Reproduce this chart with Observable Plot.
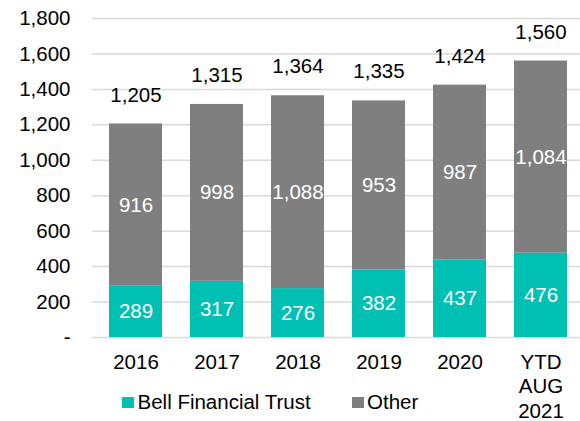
<!DOCTYPE html>
<html>
<head>
<meta charset="utf-8">
<script src="https://cdn.jsdelivr.net/npm/d3@7"></script>
<script src="https://cdn.jsdelivr.net/npm/@observablehq/plot@0.6"></script>
<style>
  body { margin: 0; background: #fff; font-family: "Liberation Sans", Arial, sans-serif; }
  #wrap { position: relative; width: 580px; height: 421px; }
  #wrap svg { overflow: visible; }
  .lg { position: absolute; font-size: 20.5px; color: #000; line-height: 1; white-space: nowrap; }
  .sw { position: absolute; width: 11.5px; height: 11.5px; }
</style>
</head>
<body>
<div id="wrap"></div>
<script>
const years = ["2016", "2017", "2018", "2019", "2020", "YTD\nAUG\n2021"];
const bell = [289, 317, 276, 382, 437, 476];
const other = [916, 998, 1088, 953, 987, 1084];
const totals = [1205, 1315, 1364, 1335, 1424, 1560];
const seriesNames = ["Bell Financial Trust", "Other"];
const colors = ["#00bfb3", "#7f7f7f"];
const yTicks = [0, 200, 400, 600, 800, 1000, 1200, 1400, 1600, 1800];

const rows = [];
years.forEach((y, i) => {
  rows.push({year: y, series: seriesNames[0], value: bell[i]});
  rows.push({year: y, series: seriesNames[1], value: other[i]});
});
const totalRows = years.map((y, i) => ({year: y, total: totals[i]}));

const fmt = d3.format(",");
const FS = 20.5;

const chart = Plot.plot({
  width: 580,
  height: 421,
  marginLeft: 92,
  marginRight: 0,
  marginTop: 18,
  marginBottom: 84,
  style: {fontFamily: "Liberation Sans, Arial, sans-serif", fontSize: FS + "px", color: "#000", overflow: "visible"},
  x: {domain: years, range: [94.3, 582.7], paddingInner: 0.34, paddingOuter: 0.17, label: null},
  y: {domain: [0, 1800], label: null},
  color: {domain: seriesNames, range: colors},
  marks: [
    Plot.ruleY(yTicks, {stroke: "#d9d9d9", strokeWidth: 1.5}),
    Plot.barY(rows, {x: "year", y: "value", fill: "series", order: seriesNames}),
    Plot.text(rows, Plot.stackY({x: "year", y: "value", z: "series", order: seriesNames, text: d => fmt(d.value), fill: "white", fontSize: FS})),
    Plot.text(totalRows, {x: "year", y: "total", text: d => fmt(d.total), dy: -29, fill: "#000", fontSize: FS}),
    Plot.axisY({ticks: yTicks, tickSize: 0, tickPadding: 22, tickFormat: d => d === 0 ? "-" : fmt(d), fontSize: FS, fill: "#000"}),
    Plot.axisX({tickSize: 0, tickPadding: 14, lineHeight: 1.19, fontSize: FS, fill: "#000"})
  ]
});
const wrap = document.getElementById("wrap");
wrap.appendChild(chart);

const legendPos = [{sx: 122, tx: 137.5}, {sx: 352, tx: 367}];
seriesNames.forEach((s, i) => {
  const sw = document.createElement("span");
  sw.className = "sw";
  sw.style.background = colors[i];
  sw.style.left = legendPos[i].sx + "px";
  sw.style.top = "396.5px";
  wrap.appendChild(sw);
  const t = document.createElement("span");
  t.className = "lg";
  t.textContent = s;
  t.style.left = legendPos[i].tx + "px";
  t.style.top = "392px";
  wrap.appendChild(t);
});
</script>
</body>
</html>
